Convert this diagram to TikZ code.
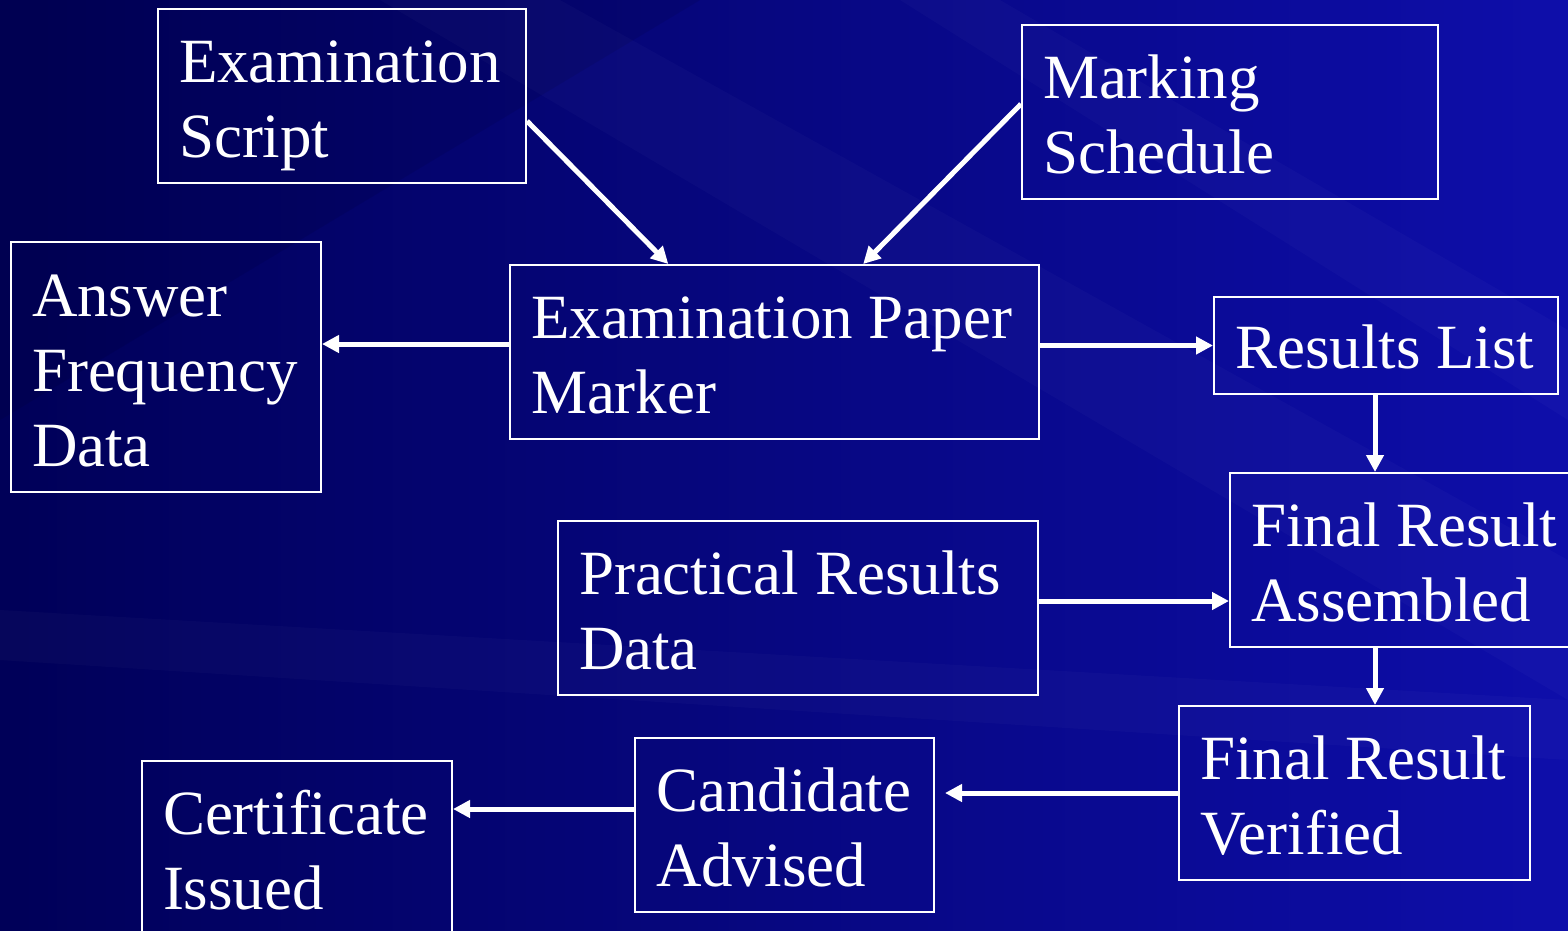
\documentclass[tikz,border=0pt]{standalone}
\usepackage{fontspec}
\setmainfont{Liberation Serif}
\usetikzlibrary{positioning,calc,arrows.meta}

\definecolor{bgdark}{RGB}{0,0,88}
\definecolor{bglight}{RGB}{14,14,170}
\hyphenpenalty=10000
\exhyphenpenalty=10000

\tikzset{
	box/.style={draw=white, line width=2pt, text=white, anchor=north west,
		align=flush left, inner xsep=21pt, inner ysep=0pt, text height=45pt},
	one/.style={minimum height=97pt, text depth=0pt},
	two/.style={minimum height=174pt, text depth=72pt},
	three/.style={minimum height=250pt, text depth=147pt},
	streak/.style={white, opacity=.025},
}

\begin{document}
\begin{tikzpicture}[x=1pt,y=-1pt,>={Triangle[length=17pt,width=17pt]},
		font=\fontsize{63pt}{75pt}\selectfont]
		\useasboundingbox (0,0) rectangle (1568,930);
		\clip (0,0) rectangle (1568,930);
		\shade[left color=bgdark, right color=bglight] (0,0) rectangle (1568,930);
		% faint diagonal streaks
		\fill[streak] (380,0) -- (560,0) -- (1568,560) -- (1568,700) -- cycle;
		\fill[streak] (900,0) -- (1000,0) -- (1568,330) -- (1568,420) -- cycle;
		\fill[streak] (0,610) -- (0,660) -- (1568,760) -- (1568,700) -- cycle;
		\fill[black, opacity=.08] (0,0) -- (700,0) -- (0,420) -- cycle;

		\node[box, two, text width=326pt] (script) at (157,8) {Examination\\Script};
		\node[box, two, text width=374pt] (sched) at (1021,24) {Marking\\Schedule};
		\node[box, three, text width=268pt] (freq) at (10,241) {Answer\\Frequency\\Data};
		\node[box, two, text width=487pt] (marker) at (509,264) {Examination~Paper\\Marker};
		\node[box, one, text width=302pt] (list) at (1213,296) {Results~List};
		\node[box, two, text width=318pt] (assem) at (1229,472) {Final~Result\\Assembled};
		\node[box, two, text width=438pt] (prac) at (557,520) {Practical~Results\\Data};
		\node[box, two, text width=309pt] (verif) at (1178,705) {Final~Result\\Verified};
		\node[box, two, text width=257pt] (advis) at (634,737) {Candidate\\Advised};
		\node[box, two, text width=268pt] (cert) at (141,760) {Certificate\\Issued};

		\coordinate (mw) at ([yshift=8pt]marker.west);
		\coordinate (col) at ([xshift=-11pt]list.south);
		\coordinate (pe) at ([yshift=7pt]prac.east);
		\coordinate (aw) at ([yshift=16pt]advis.west);

		\path[->, white, line width=5pt]
			([yshift=-25pt]script.east) edge ($(marker.north west)!.3!(marker.north east)$)
			([yshift=8pt]sched.west) edge ($(marker.north west)!.667!(marker.north east)$)
			(mw) edge (mw -| freq.east)
			(list.west -| marker.east) edge (list.west)
			(col) edge (col |- assem.north)
			(pe) edge (pe -| assem.west)
			(col |- assem.south) edge (col |- verif.north)
			(verif.west) edge[shorten >=10pt] (verif.west -| advis.east)
			(aw) edge (aw -| cert.east)
		;
	\end{tikzpicture}
\end{document}
